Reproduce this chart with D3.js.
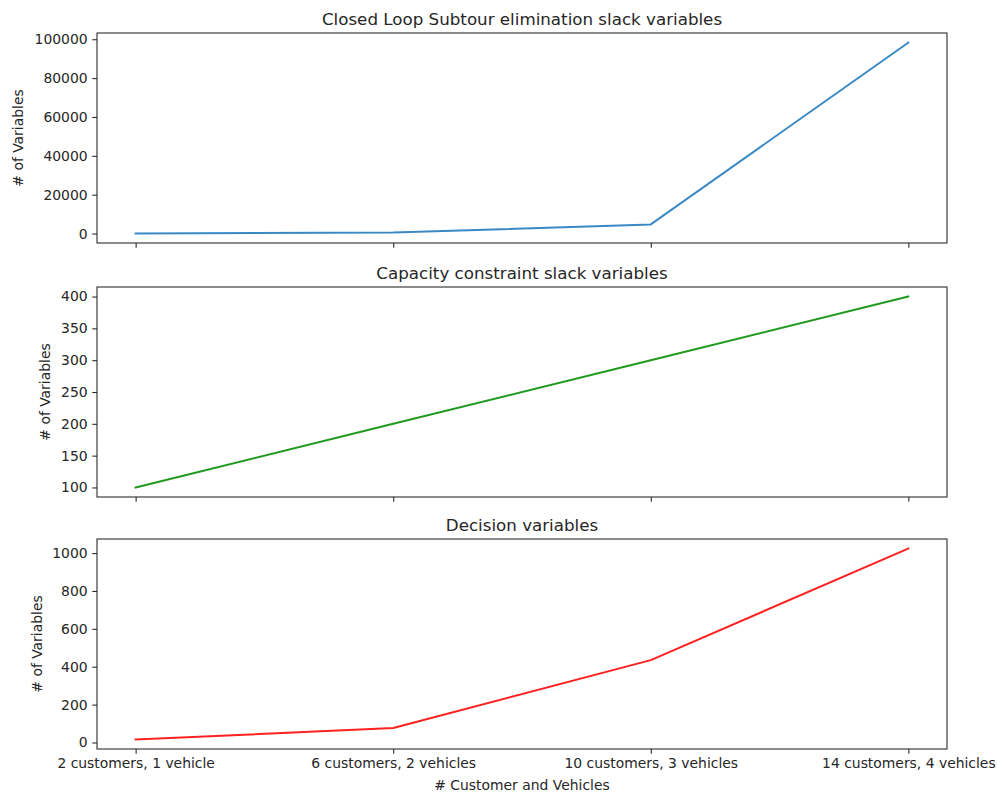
<!DOCTYPE html>
<html>
<head>
<meta charset="utf-8">
<script src="https://cdn.jsdelivr.net/npm/d3@7"></script>
<style>
  html, body { margin: 0; padding: 0; background: #fff; }
  svg { display: block; }
  text { font-family: "DejaVu Sans", sans-serif; fill: #262626; }
</style>
</head>
<body>
<svg id="chart" width="997" height="795"></svg>
<script>
// Problem sizes shared by all three panels
const categories = [
  "2 customers, 1 vehicle",
  "6 customers, 2 vehicles",
  "10 customers, 3 vehicles",
  "14 customers, 4 vehicles"
];

// Variable counts per panel
const subtourSlack = [50, 500, 4700, 98300];
const capacitySlack = [100, 200, 300, 400];
const decisionVars = [16, 76, 435, 1024];

// Tick labels for each y axis
const subtourTicks = [0, 20000, 40000, 60000, 80000, 100000];
const capacityTicks = [100, 150, 200, 250, 300, 350, 400];
const decisionTicks = [0, 200, 400, 600, 800, 1000];

const titles = [
  "Closed Loop Subtour elimination slack variables",
  "Capacity constraint slack variables",
  "Decision variables"
];
const yLabel = "# of Variables";
const xLabel = "# Customer and Vehicles";

const panels = [
  { title: titles[0], values: subtourSlack, ticks: subtourTicks, color: "#3a89c5", top: 33, labelX: 18 },
  { title: titles[1], values: capacitySlack, ticks: capacityTicks, color: "#1f9a1f", top: 287, labelX: 45 },
  { title: titles[2], values: decisionVars, ticks: decisionTicks, color: "#ff2020", top: 539, labelX: 37 }
];

const left = 97, right = 947, panelH = 210;
const tickFont = "13.9px", titleFont = "16.7px";
const svg = d3.select("#chart");

// Index-based x scale with 5% padding on both ends
const x = d3.scaleLinear()
  .domain([-0.15, categories.length - 1 + 0.15])
  .range([left, right]);

panels.forEach((p, i) => {
  const bottom = p.top + panelH;
  const lo = d3.min(p.values), hi = d3.max(p.values);
  const pad = (hi - lo) * 0.05;
  const y = d3.scaleLinear().domain([lo - pad, hi + pad]).range([bottom, p.top]);

  const g = svg.append("g");

  // y axis
  const yAxis = d3.axisLeft(y).tickValues(p.ticks).tickSize(4.7).tickPadding(4.7)
    .tickFormat(d3.format("d"));
  const ya = g.append("g").attr("transform", `translate(${left},0)`).call(yAxis);
  ya.select(".domain").remove();
  ya.selectAll("line").attr("stroke", "#262626").attr("stroke-width", 1.07);
  ya.selectAll("text").style("font-size", tickFont).attr("fill", "#262626");

  // x axis (labels only on the bottom panel)
  const xAxis = d3.axisBottom(x).tickValues(d3.range(categories.length)).tickSize(4.7).tickPadding(4.7)
    .tickFormat(i === panels.length - 1 ? (d => categories[d]) : () => "");
  const xa = g.append("g").attr("transform", `translate(0,${bottom})`).call(xAxis);
  xa.select(".domain").remove();
  xa.selectAll("line").attr("stroke", "#262626").attr("stroke-width", 1.07);
  xa.selectAll("text").style("font-size", tickFont).attr("fill", "#262626");

  // line
  const line = d3.line().x((d, k) => x(k)).y(d => y(d));
  g.append("path")
    .datum(p.values)
    .attr("d", line)
    .attr("fill", "none")
    .attr("stroke", p.color)
    .attr("stroke-width", 2)
    .attr("stroke-linejoin", "round")
    .attr("stroke-linecap", "square");

  // frame
  g.append("rect")
    .attr("x", left).attr("y", p.top)
    .attr("width", right - left).attr("height", panelH)
    .attr("fill", "none").attr("stroke", "#262626").attr("stroke-width", 1.07);

  // title
  g.append("text")
    .attr("x", (left + right) / 2).attr("y", p.top - 8)
    .attr("text-anchor", "middle")
    .style("font-size", titleFont)
    .text(p.title);

  // y label
  g.append("text")
    .attr("transform", `translate(${p.labelX + 5},${p.top + panelH / 2}) rotate(-90)`)
    .attr("text-anchor", "middle")
    .style("font-size", tickFont)
    .text(yLabel);
});

svg.append("text")
  .attr("x", (left + right) / 2).attr("y", 790)
  .attr("text-anchor", "middle")
  .style("font-size", tickFont)
  .text(xLabel);
</script>
</body>
</html>
